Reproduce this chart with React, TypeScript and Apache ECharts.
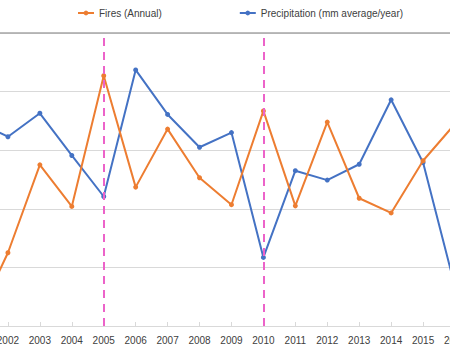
import React, { useEffect, useRef } from "react";
import * as echarts from "echarts";

const years = ["2001","2002","2003","2004","2005","2006","2007","2008","2009","2010","2011","2012","2013","2014","2015","2016"];
const fires = [9,125,275,204,427,237,336,253,207,367,205,348,218,193,282,345];
const precipitation = [350,323,363,291,221,437,361,305,330,117,265,249,276,386,279,67];
const markedYears = ["2005","2010"];

const OFFSET = 40;

export default function App() {
  const ref = useRef<HTMLDivElement>(null);
  useEffect(() => {
    const chart = echarts.init(ref.current!, undefined, { renderer: "svg" });
    const font = "'Liberation Sans', Arial, sans-serif";
    chart.setOption({
      animation: false,
      textStyle: { fontFamily: font },
      legend: {
        top: 3,
        left: 72 + OFFSET,
        itemGap: 77,
        itemWidth: 16,
        itemHeight: 6,
        textStyle: { fontSize: 10, color: "#404040", fontFamily: font },
        data: ["Fires (Annual)", "Precipitation (mm average/year)"],
      },
      grid: { left: OFFSET - 24, right: 530 - OFFSET - 455, top: 33, bottom: 24, containLabel: false },
      xAxis: {
        type: "category",
        data: years,
        boundaryGap: false,
        axisLine: { lineStyle: { color: "#D9D9D9" } },
        axisTick: { inside: true, length: 4, lineStyle: { color: "#D9D9D9" } },
        axisLabel: { interval: 0, fontSize: 10, color: "#404040", margin: 9, fontFamily: font },
        splitLine: { show: false },
      },
      yAxis: {
        type: "value",
        min: 0,
        max: 500,
        interval: 100,
        axisLine: { show: false },
        axisTick: { show: false },
        axisLabel: { show: false },
        splitLine: { lineStyle: { color: "#D9D9D9", width: 1 } },
      },
      graphic: [
        {
          type: "line",
          shape: { x1: OFFSET, y1: 33, x2: OFFSET + 450, y2: 33 },
          style: { stroke: "#A6A6A6", lineWidth: 1.5 },
          z: 10,
        },
      ],
      series: [
        {
          name: "Fires (Annual)",
          type: "line",
          data: fires,
          color: "#ED7D31",
          symbol: "circle",
          symbolSize: 5,
          lineStyle: { width: 2, color: "#ED7D31" },
          itemStyle: { color: "#ED7D31" },
          z: 3,
        },
        {
          name: "Precipitation (mm average/year)",
          type: "line",
          data: precipitation,
          color: "#4472C4",
          symbol: "circle",
          symbolSize: 5,
          lineStyle: { width: 2, color: "#4472C4" },
          itemStyle: { color: "#4472C4" },
          z: 2,
        },
        {
          name: "markers",
          type: "line",
          data: [],
          z: 5,
          markLine: {
            silent: true,
            symbol: "none",
            label: { show: false },
            lineStyle: { color: "#EC63C9", type: [8, 6], width: 2 },
            data: markedYears.map((y) => ({ xAxis: y })),
          },
        },
      ],
    });
    return () => chart.dispose();
  }, []);
  return (
    <div style={{ position: "fixed", left: 0, top: 0, width: 450, height: 350, overflow: "hidden", background: "#fff" }}>
      <div
        ref={ref}
        style={{ position: "absolute", left: -OFFSET, top: 0, width: 530, height: 350 }}
      />
    </div>
  );
}
